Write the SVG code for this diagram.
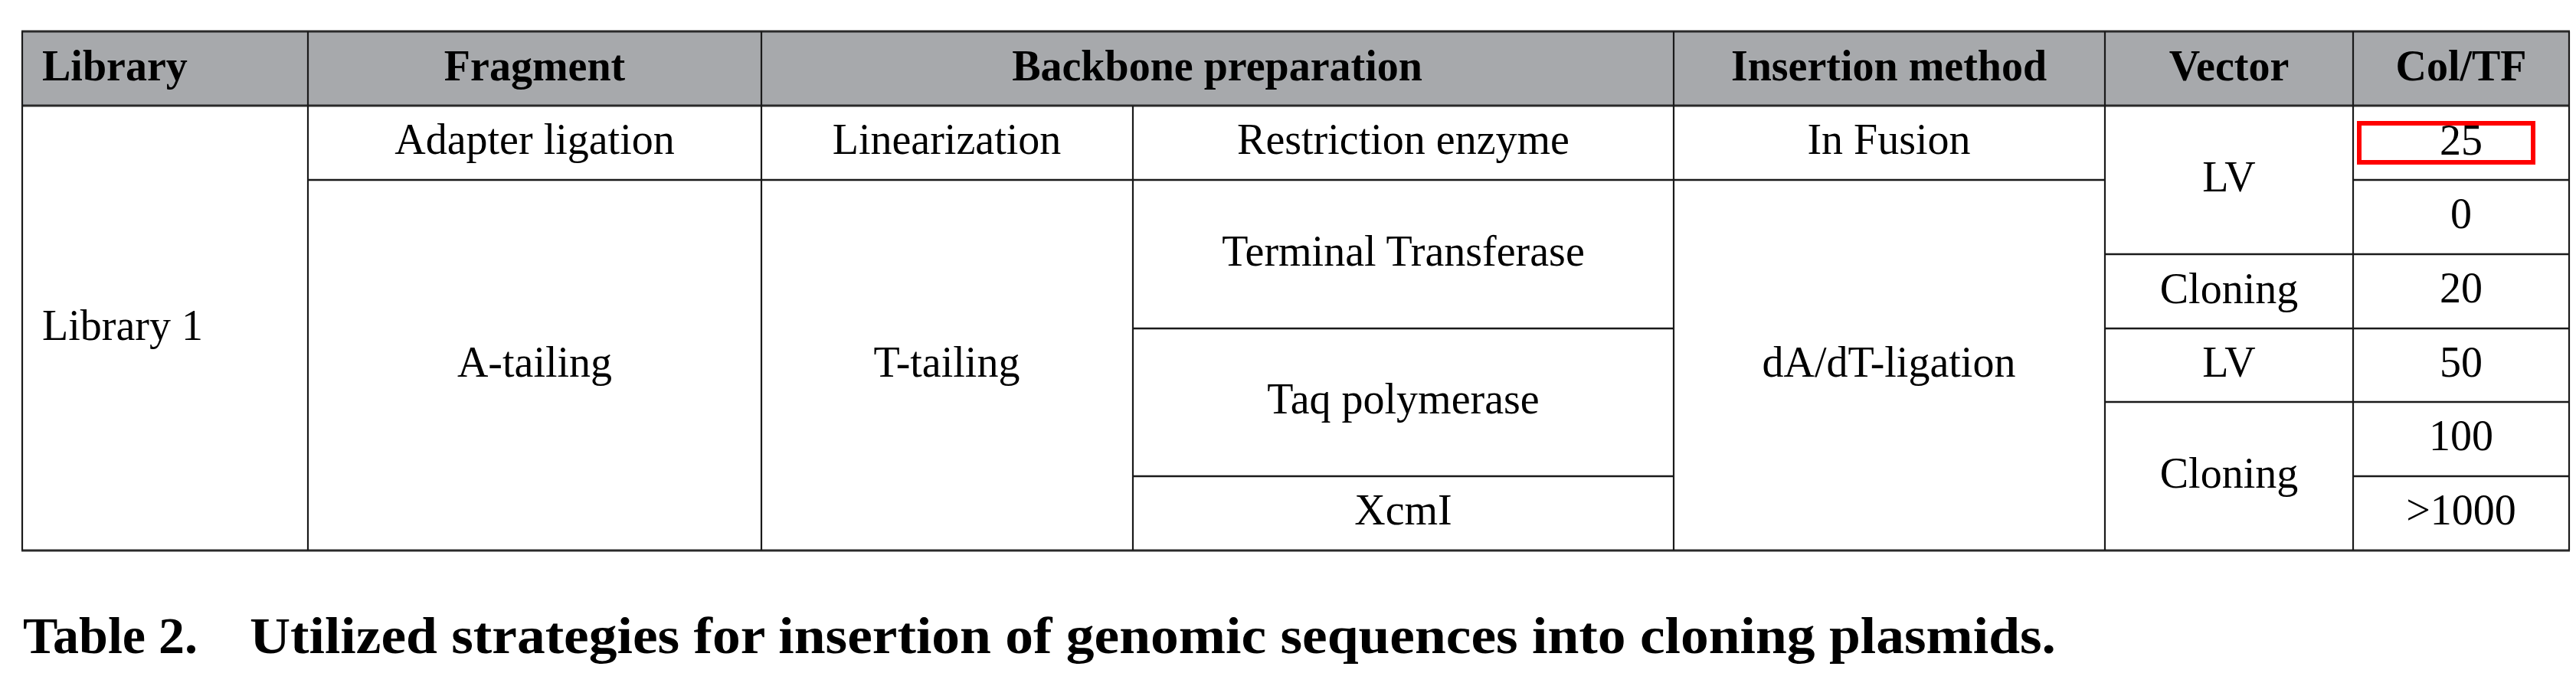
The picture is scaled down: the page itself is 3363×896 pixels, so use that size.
<svg xmlns="http://www.w3.org/2000/svg" width="3363" height="896" viewBox="0 0 3363 896">
<style>
.h{font-family:"Liberation Serif","Times New Roman",serif;font-weight:bold;font-size:56px;fill:#000;text-anchor:middle}
.t{font-family:"Liberation Serif","Times New Roman",serif;font-size:56px;fill:#000;text-anchor:middle}
.cap{font-family:"Liberation Serif","Times New Roman",serif;font-weight:bold;font-size:68px;fill:#000}
.hl{stroke:#1a1a1a;stroke-width:2.6;fill:none}
.vl{stroke:#1a1a1a;stroke-width:2.2;fill:none}
.bd{stroke:#2a2a2a;stroke-width:3;fill:none}
</style>
<rect width="3363" height="896" fill="#fff"/>
<rect id="header-bg" x="29" y="41" width="3325" height="97" fill="#a7a9ac"/>
<g id="lines">
<line class="bd" x1="28" y1="41" x2="3355" y2="41"/>
<line class="bd" x1="28" y1="138" x2="3355" y2="138"/>
<line class="bd" x1="28" y1="719" x2="3355" y2="719"/>
<line class="hl" x1="402" y1="235" x2="2748" y2="235"/>
<line class="hl" x1="3072" y1="235" x2="3354" y2="235"/>
<line class="hl" x1="2748" y1="332" x2="3354" y2="332"/>
<line class="hl" x1="1479" y1="429" x2="2185" y2="429"/>
<line class="hl" x1="2748" y1="429" x2="3354" y2="429"/>
<line class="hl" x1="2748" y1="525" x2="3354" y2="525"/>
<line class="hl" x1="1479" y1="622" x2="2185" y2="622"/>
<line class="hl" x1="3072" y1="622" x2="3354" y2="622"/>
<line class="vl" x1="29" y1="41" x2="29" y2="719"/>
<line class="vl" x1="402" y1="41" x2="402" y2="719"/>
<line class="vl" x1="994" y1="41" x2="994" y2="719"/>
<line class="vl" x1="1479" y1="138" x2="1479" y2="719"/>
<line class="vl" x1="2185" y1="41" x2="2185" y2="719"/>
<line class="vl" x1="2748" y1="41" x2="2748" y2="719"/>
<line class="vl" x1="3072" y1="41" x2="3072" y2="719"/>
<line class="vl" x1="3354" y1="41" x2="3354" y2="719"/>
</g>
<g id="header">
<text class="h" x="55" y="105" style="text-anchor:start">Library</text>
<text class="h" x="698" y="105">Fragment</text>
<text class="h" x="1589" y="105">Backbone preparation</text>
<text class="h" x="2466" y="105">Insertion method</text>
<text class="h" x="2910" y="105">Vector</text>
<text class="h" x="3213" y="105">Col/TF</text>
</g>
<g id="cell-library1"><text class="t" x="55" y="444" style="text-anchor:start">Library 1</text></g>
<g id="cell-adapter"><text class="t" x="698" y="201">Adapter ligation</text></g>
<g id="cell-atailing"><text class="t" x="698" y="492">A-tailing</text></g>
<g id="cell-linearization"><text class="t" x="1236" y="201">Linearization</text></g>
<g id="cell-ttailing"><text class="t" x="1236" y="492">T-tailing</text></g>
<g id="cell-restriction"><text class="t" x="1832" y="201">Restriction enzyme</text></g>
<g id="cell-terminal"><text class="t" x="1832" y="347">Terminal Transferase</text></g>
<g id="cell-taq"><text class="t" x="1832" y="540">Taq polymerase</text></g>
<g id="cell-xcmi"><text class="t" x="1832" y="685">XcmI</text></g>
<g id="cell-infusion"><text class="t" x="2466" y="201">In Fusion</text></g>
<g id="cell-dadt"><text class="t" x="2466" y="492">dA/dT-ligation</text></g>
<g id="cell-lv1"><text class="t" x="2910" y="250">LV</text></g>
<g id="cell-cloning1"><text class="t" x="2910" y="396">Cloning</text></g>
<g id="cell-lv2"><text class="t" x="2910" y="492">LV</text></g>
<g id="cell-cloning2"><text class="t" x="2910" y="637">Cloning</text></g>
<g id="cell-25"><text class="t" x="3213" y="202">25</text></g>
<g id="cell-0"><text class="t" x="3213" y="298">0</text></g>
<g id="cell-20"><text class="t" x="3213" y="395">20</text></g>
<g id="cell-50"><text class="t" x="3213" y="492">50</text></g>
<g id="cell-100"><text class="t" x="3213" y="588">100</text></g>
<g id="cell-1000"><text class="t" x="3213" y="685">&gt;1000</text></g>
<g id="highlight"><rect x="3080" y="161" width="227" height="51" fill="none" stroke="#ff0000" stroke-width="6"/></g>
<g id="caption">
<text class="cap" x="30" y="853">Table 2.</text>
<text class="cap" x="326" y="853" textLength="2358" lengthAdjust="spacingAndGlyphs">Utilized strategies for insertion of genomic sequences into cloning plasmids.</text>
</g>
</svg>
